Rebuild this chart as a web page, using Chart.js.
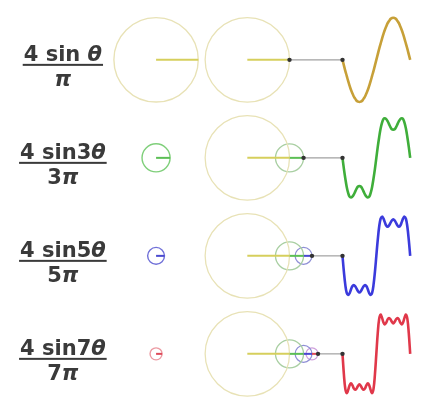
<!DOCTYPE html>
<html>
<head>
<meta charset="utf-8">
<script src="https://cdn.jsdelivr.net/npm/chart.js@4.4.1/dist/chart.umd.min.js"></script>
<style>
  html, body { margin: 0; padding: 0; background: #fff; }
  #fourier { display: block; }
</style>
</head>
<body>
<canvas id="fourier" width="424" height="400"></canvas>
<script>
// terms of the square wave series, one per row
const numerators = ["4 sin θ", "4 sin3θ", "4 sin5θ", "4 sin7θ"];
const denominators = ["π", "3π", "5π", "7π"];
const amplitudes = [1, 0.333, 0.2, 0.143];

// partial sums (one period, up is positive)
const wave1 = [0, -.13, -.26, -.38, -.5, -.61, -.71, -.79, -.87, -.92, -.97, -.99, -1, -.99, -.97, -.92, -.87, -.79, -.71, -.61, -.5, -.38, -.26, -.13, 0,
  .13, .26, .38, .5, .61, .71, .79, .87, .92, .97, .99, 1, .99, .97, .92, .87, .79, .71, .61, .5, .38, .26, .13, 0];
const wave3 = [0, -.26, -.49, -.69, -.83, -.92, -.94, -.92, -.87, -.8, -.73, -.68, -.67, -.68, -.73, -.8, -.87, -.92, -.94, -.92, -.83, -.69, -.49, -.26, 0,
  .26, .49, .69, .83, .92, .94, .92, .87, .8, .73, .68, .67, .68, .73, .8, .87, .92, .94, .92, .83, .69, .49, .26, 0];
const wave5 = [0, -.38, -.69, -.88, -.93, -.89, -.8, -.72, -.69, -.72, -.78, -.84, -.87, -.84, -.78, -.72, -.69, -.72, -.8, -.89, -.93, -.88, -.69, -.38, 0,
  .38, .69, .88, .93, .89, .8, .72, .69, .72, .78, .84, .87, .84, .78, .72, .69, .72, .8, .89, .93, .88, .69, .38, 0];
const wave7 = [0, -.49, -.83, -.93, -.86, -.75, -.7, -.74, -.82, -.85, -.82, -.76, -.72, -.76, -.82, -.85, -.82, -.74, -.7, -.75, -.86, -.93, -.83, -.49, 0,
  .49, .83, .93, .86, .75, .7, .74, .82, .85, .82, .76, .72, .76, .82, .85, .82, .74, .7, .75, .86, .93, .83, .49, 0];
const waves = [wave1, wave3, wave5, wave7];

// layout (chart units = canvas px)
const R = 43;
const ROW_Y0 = 57, ROW_STEP = 100;
const TEXT_CX = 60, LEFT_CX = 155, CHAIN_CX = 248;
const WAVE_X0 = 345, WAVE_W = 69;
const rowY = i => ROW_Y0 + i * ROW_STEP;

// styles
const waveColors = ["#c7a038", "#3fae3a", "#3b3bdc", "#e0384a"];
const spokeColors = ["#d6cf5c", "#5cbf55", "#4a4ad0", "#de4a5a"];
const leftRing = ["#e8e2b6", "#7fcf7a", "#7070d8", "#ec9aa2"];
const chainRing = ["#e8e2b6", "#a9cfa2", "#8f8fd6", "#cfa0dc"];

const datasets = [];
const pxRadius = amp => ctx => {
  const s = ctx.chart.scales.x;
  return Math.abs(s.getPixelForValue(amp * R) - s.getPixelForValue(0));
};
const seg = (x1, x2, y, color, w) => ({
  type: "line", data: [{ x: x1, y }, { x: x2, y }], borderColor: color,
  borderWidth: w, pointRadius: 0, clip: false
});

numerators.forEach((_, i) => {
  const y = rowY(i);
  // connector from the last spoke tip to the start of the trace
  let tip = CHAIN_CX;
  for (let j = 0; j <= i; j++) tip += amplitudes[j] * R;
  datasets.push({
    type: "line", data: [{ x: tip, y }, { x: WAVE_X0, y }],
    borderColor: "#a0a0a0", borderWidth: 1.2,
    pointRadius: 2.2, pointBackgroundColor: "#333", pointBorderWidth: 0, clip: false
  });
  // spokes
  datasets.push(seg(LEFT_CX, LEFT_CX + amplitudes[i] * R, y, spokeColors[i], 2));
  let cx = CHAIN_CX;
  for (let j = 0; j <= i; j++) {
    datasets.push(seg(cx, cx + amplitudes[j] * R, y, spokeColors[j], 2));
    cx += amplitudes[j] * R;
  }
  // trace
  const w = waves[i];
  datasets.push({
    type: "line",
    data: w.map((v, k) => ({ x: WAVE_X0 + k / (w.length - 1) * WAVE_W, y: y - v * R })),
    borderColor: waveColors[i], borderWidth: 2.6, tension: 0.4,
    pointRadius: 0, clip: false
  });
});

// rings (drawn underneath)
numerators.forEach((_, i) => {
  const y = rowY(i);
  datasets.push({
    type: "scatter", data: [{ x: LEFT_CX, y }],
    pointRadius: pxRadius(amplitudes[i]), pointBorderColor: leftRing[i],
    pointBackgroundColor: "rgba(0,0,0,0)", pointBorderWidth: 1.4, clip: false
  });
  let cx = CHAIN_CX;
  for (let j = 0; j <= i; j++) {
    datasets.push({
      type: "scatter", data: [{ x: cx, y }],
      pointRadius: pxRadius(amplitudes[j]), pointBorderColor: chainRing[j],
      pointBackgroundColor: "rgba(0,0,0,0)", pointBorderWidth: 1.3, clip: false
    });
    cx += amplitudes[j] * R;
  }
});

function drawMixed(ctx, text, cx, baseline) {
  const size = 21;
  const fontFor = ch => (/[θπ]/.test(ch) ? "oblique " : "") + "bold " + size + "px 'DejaVu Sans'";
  let total = 0;
  for (const ch of text) { ctx.font = fontFor(ch); total += ctx.measureText(ch).width; }
  let x = cx - total / 2;
  ctx.textAlign = "left";
  ctx.textBaseline = "alphabetic";
  for (const ch of text) {
    ctx.font = fontFor(ch);
    ctx.fillText(ch, x, baseline);
    x += ctx.measureText(ch).width;
  }
  return total;
}

const fractionLabels = {
  id: "fractionLabels",
  afterDraw(chart) {
    const { ctx, scales: { x, y } } = chart;
    ctx.save();
    ctx.fillStyle = "#3a3a3a";
    numerators.forEach((num, i) => {
      const cx = x.getPixelForValue(TEXT_CX);
      const cy = y.getPixelForValue(rowY(i));
      const w = drawMixed(ctx, num, cx, cy + 1);
      drawMixed(ctx, denominators[i], cx, cy + 26);
      ctx.fillRect(cx - w / 2 - 1, cy + 4, w + 2, 2);
    });
    ctx.restore();
  }
};

new Chart(document.getElementById("fourier"), {
  type: "scatter",
  data: { datasets },
  options: {
    responsive: false,
    animation: false,
    events: [],
    layout: { padding: 0 },
    scales: {
      x: { type: "linear", min: 0, max: 424, display: false },
      y: { type: "linear", min: 0, max: 400, reverse: true, display: false }
    },
    plugins: { legend: { display: false }, tooltip: { enabled: false } }
  },
  plugins: [fractionLabels]
});
</script>
</body>
</html>
